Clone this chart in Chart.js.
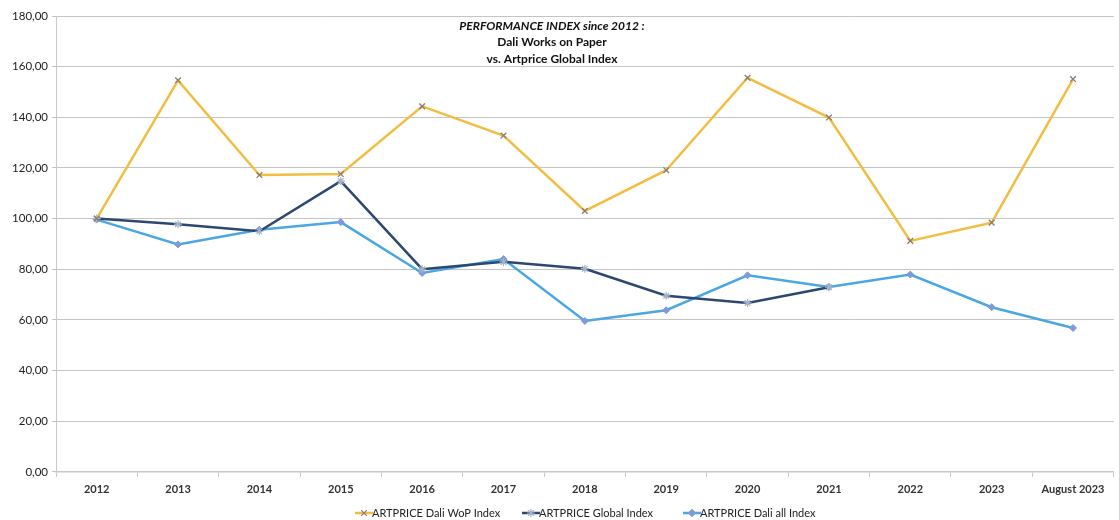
<!DOCTYPE html>
<html>
<head>
<meta charset="utf-8">
<script src="https://cdn.jsdelivr.net/npm/chart.js@4"></script>
<style>
  html, body { margin: 0; padding: 0; background: #ffffff; }
  #wrap { width: 1119px; height: 520px; position: relative; }
</style>
</head>
<body>
<div id="wrap"><canvas id="c" width="1119" height="520"></canvas></div>
<script>
const categories = ['2012','2013','2014','2015','2016','2017','2018','2019','2020','2021','2022','2023','August 2023'];
const daliWoP   = [100, 154.6, 117.2, 117.6, 144.3, 132.8, 103.0, 119.1, 155.6, 139.9, 91.2, 98.4, 155.1];
const globalIdx = [100, 97.8, 95.0, 114.8, 80.0, 82.9, 80.2, 69.5, 66.7, 72.9, null, null, null];
const daliAll   = [99.6, 89.8, 95.6, 98.6, 78.5, 84.0, 59.6, 63.8, 77.6, 73.0, 77.9, 65.0, 56.8];
const yTicks    = [0, 20, 40, 60, 80, 100, 120, 140, 160, 180];
const titleLines = ['PERFORMANCE INDEX since 2012 :', 'Dali Works on Paper', 'vs. Artprice Global Index'];
const seriesNames = ['ARTPRICE Dali WoP Index', 'ARTPRICE Global Index', 'ARTPRICE Dali all Index'];

const FONT = 'Lato, "Open Sans", sans-serif';

const titlePlugin = {
  id: 'innerTitle',
  afterDraw(chart) {
    const ctx = chart.ctx;
    const area = chart.chartArea;
    const cx = 552;
    ctx.save();
    ctx.fillStyle = '#111';
    ctx.textAlign = 'center';
    ctx.textBaseline = 'middle';
    titleLines.forEach((t, i) => {
      ctx.font = (i === 0 ? 'italic bold ' : 'bold ') + '12px ' + FONT;
      ctx.fillText(t, cx, area.top + 10 + i * 16.5);
    });
    ctx.restore();
  }
};

const legendPlugin = {
  id: 'lineLegend',
  afterDraw(chart) {
    const ctx = chart.ctx;
    const y = 513;
    const starts = [355, 522, 683];
    ctx.save();
    ctx.font = '11px ' + FONT;
    ctx.textBaseline = 'middle';
    ctx.textAlign = 'left';
    chart.data.datasets.forEach((ds, i) => {
      const x0 = starts[i];
      ctx.strokeStyle = ds.borderColor;
      ctx.lineWidth = 2.5;
      ctx.beginPath();
      ctx.moveTo(x0, y);
      ctx.lineTo(x0 + 18, y);
      ctx.stroke();
      ctx.fillStyle = ds.pointBackgroundColor;
      ctx.strokeStyle = ds.pointBorderColor;
      ctx.lineWidth = 1.2;
      Chart.helpers.drawPoint(ctx, {
        pointStyle: ds.pointStyle,
        radius: ds.pointRadius,
        rotation: 0,
        borderWidth: 1.2
      }, x0 + 9, y);
      ctx.fillStyle = '#222';
      ctx.fillText(seriesNames[i], x0 + 17, y);
    });
    ctx.restore();
  }
};

function pointColors(fill, stroke) { return {pointBackgroundColor: fill, pointBorderColor: stroke}; }

const chart = new Chart(document.getElementById('c'), {
  type: 'line',
  data: {
    labels: categories,
    datasets: [
      Object.assign({
        label: seriesNames[0],
        data: daliWoP,
        borderColor: '#F1BE42',
        borderWidth: 2.5,
        pointStyle: 'crossRot',
        pointRadius: 4,
        pointBorderWidth: 1.3
      }, pointColors('#8c7a70', '#8c7a70')),
      Object.assign({
        label: seriesNames[1],
        data: globalIdx,
        borderColor: '#2C4770',
        borderWidth: 2.5,
        pointStyle: 'star',
        pointRadius: 4,
        pointBorderWidth: 1.2,
        spanGaps: false
      }, pointColors('#a6b3c8', '#a6b3c8')),
      Object.assign({
        label: seriesNames[2],
        data: daliAll,
        borderColor: '#4AA7E2',
        borderWidth: 2.5,
        pointStyle: 'rectRot',
        pointRadius: 3.5,
        pointBorderWidth: 1
      }, pointColors('#7f9ad6', '#7f9ad6'))
    ]
  },
  options: {
    responsive: false,
    animation: false,
    devicePixelRatio: 1,
    layout: { padding: { top: 16, right: 0, bottom: 18, left: 9 } },
    plugins: {
      legend: { display: false },
      title: { display: false },
      tooltip: { enabled: false }
    },
    elements: { line: { tension: 0 } },
    scales: {
      x: {
        offset: true,
        grid: { display: true, offset: true, drawOnChartArea: false, tickLength: 5, color: '#c8c8c8' },
        border: { display: true, color: '#c8c8c8', width: 1.5 },
        ticks: { color: '#333', font: { family: FONT, size: 11, weight: 'bold' }, padding: 6, maxRotation: 0, autoSkip: false }
      },
      y: {
        min: 0, max: 180,
        afterBuildTicks(scale) { scale.ticks = yTicks.map(v => ({ value: v })); },
        afterFit(scale) { scale.width = 47; },
        grid: { color: '#c4c4c4', lineWidth: 1, tickLength: 4, drawTicks: true },
        border: { display: true, color: '#c8c8c8' },
        ticks: {
          color: '#222',
          font: { family: FONT, size: 11.5 },
          padding: 4,
          callback: v => v.toFixed(2).replace('.', ',')
        }
      }
    }
  },
  plugins: [titlePlugin, legendPlugin]
});
</script>
</body>
</html>
